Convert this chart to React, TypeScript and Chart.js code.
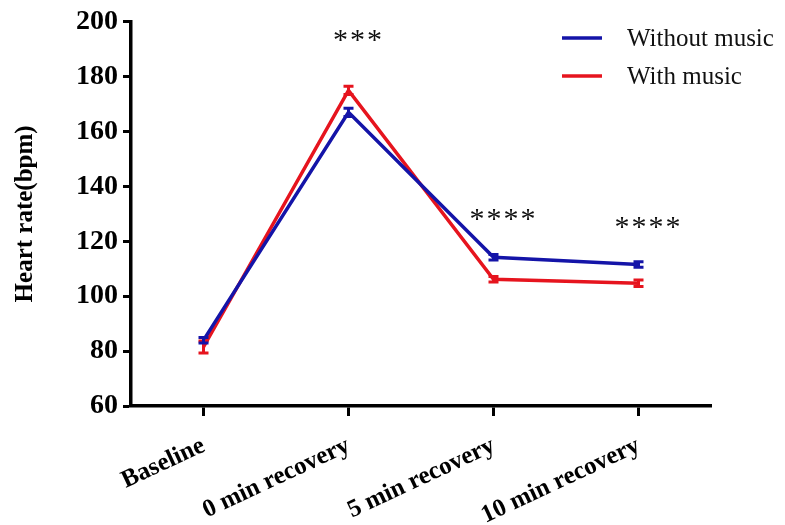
import React, { useEffect, useRef } from 'react';
import { Chart, registerables } from 'chart.js';

Chart.register(...registerables);

// ---- data ----
const categories = ['Baseline', '0 min recovery', '5 min recovery', '10 min recovery'];
const seriesNames = ['Without music', 'With music'];
const withoutMusic = [84, 167, 114.2, 111.6];
const withoutMusicErr = [1, 1.5, 1, 1];
const withMusic = [81.5, 175, 106.2, 104.7];
const withMusicErr = [2.2, 1.5, 1, 1.2];
const sigLabels = ['', '***', '****', '****'];
const sigValues = [0, 195, 130, 127];
const yMin = 60;
const yMax = 200;
const yStep = 20;

const BLUE = '#1414a8';
const RED = '#e6141e';
const SERIF = "'Liberation Serif', 'Times New Roman', serif";

const errors = [withoutMusicErr, withMusicErr];

const errorBarPlugin = {
  id: 'errorBars',
  afterDatasetsDraw(chart: any) {
    const ctx = chart.ctx;
    const yScale = chart.scales.y;
    for (let i = chart.data.datasets.length - 1; i >= 0; i--) {
      const ds = chart.data.datasets[i];
      const meta = chart.getDatasetMeta(i);
      const errs = errors[i];
      ctx.save();
      ctx.strokeStyle = ds.borderColor;
      ctx.lineWidth = 3;
      meta.data.forEach((pt: any, j: number) => {
        const v = ds.data[j];
        const e = errs[j];
        const yt = yScale.getPixelForValue(v + e);
        const yb = yScale.getPixelForValue(v - e);
        const x = pt.x;
        ctx.beginPath();
        ctx.moveTo(x, yt);
        ctx.lineTo(x, yb);
        ctx.moveTo(x - 5, yt);
        ctx.lineTo(x + 5, yt);
        ctx.moveTo(x - 5, yb);
        ctx.lineTo(x + 5, yb);
        ctx.stroke();
      });
      ctx.restore();
    }
  },
};

const annotationPlugin = {
  id: 'sigMarks',
  afterDraw(chart: any) {
    const ctx = chart.ctx;
    const xScale = chart.scales.x;
    const yScale = chart.scales.y;
    ctx.save();
    ctx.fillStyle = '#111';
    ctx.font = `30px ${SERIF}`;
    ctx.textAlign = 'center';
    ctx.textBaseline = 'middle';
    (ctx as any).letterSpacing = '2px';
    sigLabels.forEach((lab, i) => {
      if (!lab) return;
      const x = xScale.getPixelForValue(i) + 10;
      const y = yScale.getPixelForValue(sigValues[i]) + 6;
      ctx.fillText(lab, x, y);
    });
    ctx.restore();
  },
};

const legendPlugin = {
  id: 'customLegend',
  afterDraw(chart: any) {
    const ctx = chart.ctx;
    ctx.save();
    ctx.font = `25px ${SERIF}`;
    ctx.textAlign = 'left';
    ctx.textBaseline = 'middle';
    chart.data.datasets.forEach((ds: any, i: number) => {
      const y = 38 + i * 38;
      ctx.strokeStyle = ds.borderColor;
      ctx.lineWidth = 3.5;
      ctx.beginPath();
      ctx.moveTo(562, y);
      ctx.lineTo(602, y);
      ctx.stroke();
      ctx.fillStyle = '#111';
      ctx.fillText(ds.label, 627, y + 1);
    });
    ctx.restore();
  },
};

export default function App() {
  const ref = useRef<HTMLCanvasElement | null>(null);
  useEffect(() => {
    if (!ref.current) return;
    const chart = new Chart(ref.current, {
      type: 'line',
      data: {
        labels: categories,
        datasets: [
          {
            label: seriesNames[0],
            data: withoutMusic,
            borderColor: BLUE,
            backgroundColor: BLUE,
            borderWidth: 3.5,
            pointRadius: 0,
            tension: 0,
          },
          {
            label: seriesNames[1],
            data: withMusic,
            borderColor: RED,
            backgroundColor: RED,
            borderWidth: 3.5,
            pointRadius: 0,
            tension: 0,
          },
        ],
      },
      options: {
        animation: false,
        responsive: false,
        maintainAspectRatio: false,
        layout: { padding: { top: 21, right: 74, left: 0, bottom: 0 } },
        plugins: {
          legend: { display: false },
          tooltip: { enabled: false },
        },
        scales: {
          x: {
            type: 'category',
            offset: true,
            afterFit: (s: any) => {
              s.height = 119;
            },
            grid: {
              display: true,
              drawOnChartArea: false,
              drawTicks: true,
              offset: false,
              tickLength: 10,
              tickWidth: 3,
              tickColor: '#000',
            },
            border: { display: true, width: 3.5, color: '#000' },
            ticks: {
              maxRotation: 25,
              minRotation: 25,
              padding: 15,
              color: '#000',
              font: { family: SERIF, size: 25, weight: 'bold' },
            },
          },
          y: {
            min: yMin,
            max: yMax,
            afterFit: (s: any) => {
              s.width = 131;
            },
            grid: {
              display: true,
              drawOnChartArea: false,
              drawTicks: true,
              tickLength: 8,
              tickWidth: 3,
              tickColor: '#000',
            },
            border: { display: true, width: 3.5, color: '#000' },
            ticks: {
              stepSize: yStep,
              padding: 5,
              color: '#000',
              font: { family: SERIF, size: 28, weight: 'bold' },
            },
            title: {
              display: true,
              text: 'Heart rate(bpm)',
              color: '#000',
              padding: { top: 11, bottom: 0 },
              font: { family: SERIF, size: 25, weight: 'bold' },
            },
          },
        },
      } as any,
      plugins: [errorBarPlugin, annotationPlugin, legendPlugin],
    });
    return () => chart.destroy();
  }, []);
  return (
    <div style={{ position: 'fixed', left: 0, top: 0, width: 785, height: 525, background: '#fff' }}>
      <canvas ref={ref} width={785} height={525} style={{ display: 'block' }} />
    </div>
  );
}
